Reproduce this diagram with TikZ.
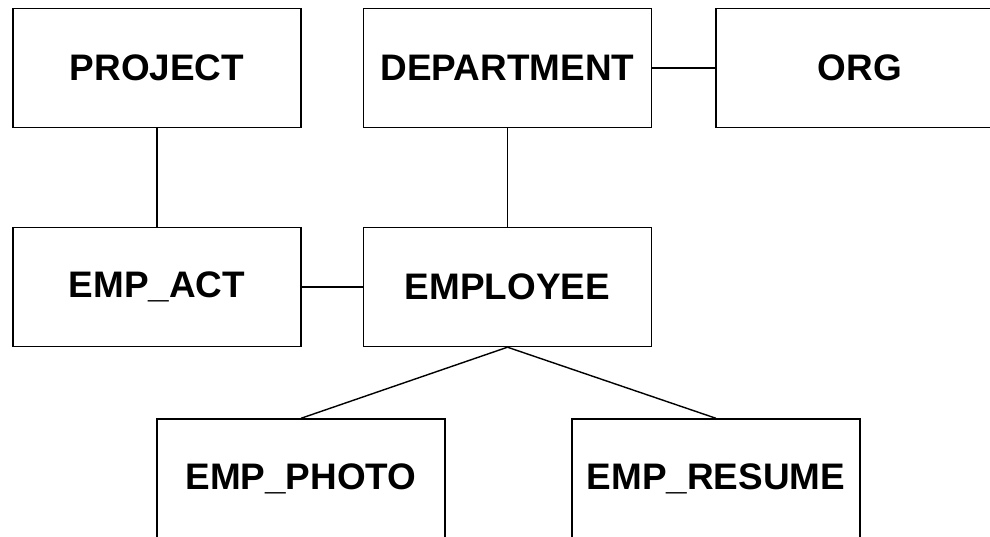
\documentclass[tikz,border=0pt]{standalone}
\usepackage{fontspec}
\setmainfont{Liberation Sans}
\usepackage{tikz}
\usetikzlibrary{positioning}

\begin{document}
\begin{tikzpicture}[
        table/.style={draw, line width=0.8pt, minimum width=5.76cm, minimum height=2.38cm,
                      inner sep=0pt, font=\fontsize{21}{25}\selectfont\bfseries},
        link/.style={line width=0.8pt}]
    % Page frame
    \useasboundingbox (0,0) rectangle (19.8,-10.74);
    \clip (0,0) rectangle (19.8,-10.74);

    % Top row
    \node[table] (project) at (3.14, -1.36) {PROJECT};
    \node[table] (dept) at (10.15, -1.36) {DEPARTMENT};
    \node[table] (org) at (17.2, -1.36) {ORG};

    % Middle row
    \node[table] (empact) at (3.14, -5.74) {EMP\_ACT};
    \node[table] (employee) at (10.15, -5.74) {EMPLOYEE};

    % Bottom row
    \node[table] (empphoto) at (6.02, -9.57) {EMP\_PHOTO};
    \node[table] (empresume) at (14.32, -9.57) {EMP\_RESUME};

    % Links
    \draw[link] (dept) -- (org);
    \draw[link] (project) -- (empact);
    \draw[link] (dept) -- (employee);
    \draw[link] (empact) -- (employee);
    \draw[link] (employee.south) -- (empphoto.north);
    \draw[link] (employee.south) -- (empresume.north);
\end{tikzpicture}
\end{document}
